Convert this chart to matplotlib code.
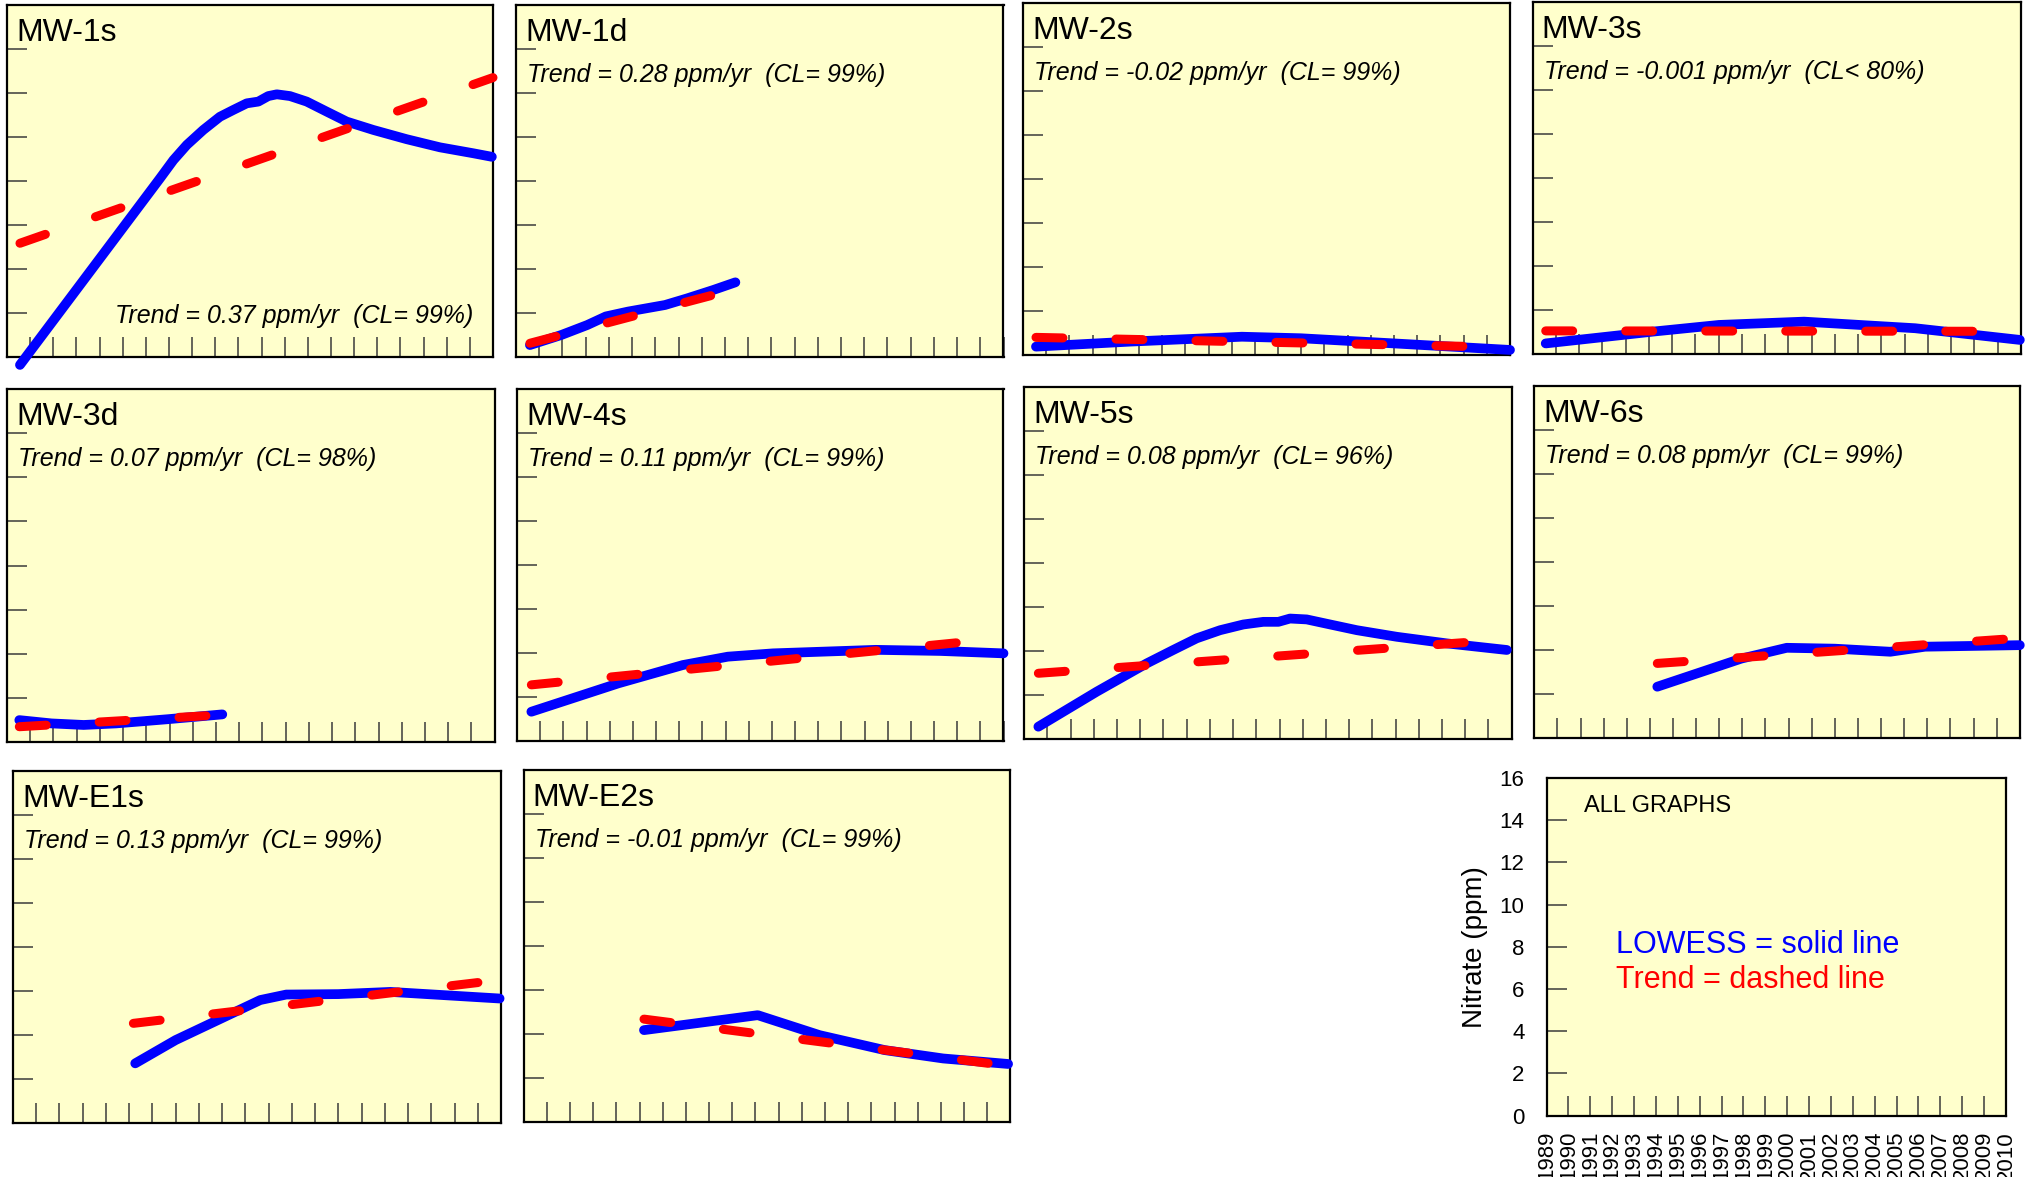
import matplotlib

matplotlib.use("Agg")
import matplotlib.pyplot as plt

plt.rcParams["font.family"] = ["Liberation Sans", "DejaVu Sans"]
plt.rcParams["lines.scale_dashes"] = False

# ---- data (year, nitrate ppm) ----
wells = ["MW-1s", "MW-1d", "MW-2s", "MW-3s",
         "MW-3d", "MW-4s", "MW-5s", "MW-6s",
         "MW-E1s", "MW-E2s"]

trend_labels = [
    "Trend = 0.37 ppm/yr  (CL= 99%)",
    "Trend = 0.28 ppm/yr  (CL= 99%)",
    "Trend = -0.02 ppm/yr  (CL= 99%)",
    "Trend = -0.001 ppm/yr  (CL< 80%)",
    "Trend = 0.07 ppm/yr  (CL= 98%)",
    "Trend = 0.11 ppm/yr  (CL= 99%)",
    "Trend = 0.08 ppm/yr  (CL= 96%)",
    "Trend = 0.08 ppm/yr  (CL= 99%)",
    "Trend = 0.13 ppm/yr  (CL= 99%)",
    "Trend = -0.01 ppm/yr  (CL= 99%)",
]

# LOWESS curves
mw1s_yr = [1989.56, 1995.61, 1996.19, 1996.77, 1997.48, 1998.2, 1998.78,
           1999.36, 1999.86, 2000.29, 2000.66, 2001.23, 2001.95, 2002.82, 2003.68,
           2004.83, 2006.27, 2007.71, 2009.15, 2009.95]
mw1s_no3 = [-0.36, 8.12, 8.95, 9.64, 10.32, 10.92, 11.23,
            11.53, 11.61, 11.86, 11.94, 11.86, 11.61, 11.15, 10.7,
            10.32, 9.9, 9.53, 9.26, 9.1]
mw1d_yr = [1989.6, 1990.96, 1992.07, 1992.87, 1993.82, 1995.42, 1996.37, 1997.49, 1998.45]
mw1d_no3 = [0.53, 0.99, 1.44, 1.83, 2.05, 2.35, 2.65, 3.03, 3.38]
mw2s_yr = [1989.56, 1993.65, 1998.44, 2000.98, 2004.93, 2010.0]
mw2s_no3 = [0.38, 0.61, 0.83, 0.76, 0.53, 0.23]
mw3s_yr = [1989.56, 1994.2, 1997.01, 2000.67, 2005.45, 2009.95]
mw3s_no3 = [0.48, 1.02, 1.32, 1.47, 1.17, 0.64]
mw3d_yr = [1989.53, 1990.92, 1992.3, 1993.69, 1995.91, 1998.27]
mw3d_no3 = [0.98, 0.83, 0.76, 0.83, 1.02, 1.24]
mw4s_yr = [1989.62, 1993.38, 1996.16, 1998.1, 2000.05, 2004.49, 2007.27, 2010.0]
mw4s_no3 = [1.33, 2.62, 3.45, 3.83, 3.98, 4.14, 4.09, 3.98]
mw5s_yr = [1989.61, 1992.12, 1994.28, 1995.42, 1996.43, 1997.44, 1998.44, 1999.3, 1999.95,
           2000.45, 2001.17, 2002.18, 2003.33, 2005.05, 2007.2, 2009.79]
mw5s_no3 = [0.56, 2.15, 3.44, 4.05, 4.58, 4.95, 5.21, 5.33, 5.33,
            5.48, 5.44, 5.21, 4.95, 4.65, 4.35, 4.05]
mw6s_yr = [1994.32, 1997.96, 1999.92, 2002.0, 2004.4, 2005.9, 2010.0]
mw6s_no3 = [2.32, 3.6, 4.09, 4.05, 3.91, 4.14, 4.21]
mwe1s_yr = [1994.26, 1996.0, 1997.96, 1999.64, 2000.76, 2003.0, 2005.24, 2009.94]
mwe1s_no3 = [2.7, 3.76, 4.74, 5.58, 5.83, 5.85, 5.95, 5.65]
mwe2s_yr = [1994.19, 1999.1, 2001.77, 2004.58, 2007.1, 2009.9]
mwe2s_no3 = [4.18, 4.86, 3.95, 3.27, 2.89, 2.64]

lowess_yr = [mw1s_yr, mw1d_yr, mw2s_yr, mw3s_yr, mw3d_yr,
             mw4s_yr, mw5s_yr, mw6s_yr, mwe1s_yr, mwe2s_yr]
lowess_no3 = [mw1s_no3, mw1d_no3, mw2s_no3, mw3s_no3, mw3d_no3,
              mw4s_no3, mw5s_no3, mw6s_no3, mwe1s_no3, mwe2s_no3]

# Trend lines (start / end)
trend_yr = [[1989.56, 2010.0], [1989.6, 1998.45], [1989.56, 2010.0], [1989.56, 2010.0],
            [1989.53, 1998.27], [1989.62, 2010.0], [1989.61, 2010.0], [1994.32, 2010.0],
            [1994.18, 2010.0], [1994.19, 2010.0]]
trend_no3 = [[5.17, 12.7], [0.61, 3.07], [0.80, 0.35], [1.05, 1.03],
             [0.68, 1.22], [2.55, 4.67], [2.99, 4.54], [3.38, 4.53],
             [4.52, 6.5], [4.68, 2.54]]

years = list(range(1989, 2011))
ppm_ticks = list(range(0, 17, 2))

# ---- layout (pixel boxes: left, right, top, bottom) ----
W, H = 2025, 1177
DPI = 100
panel_boxes = [
    (7, 493, 5, 357), (516, 1003.5, 4.7, 356.7), (1023, 1510, 2.7, 355), (1532.7, 2021, 1.7, 354),
    (7, 494.7, 389.3, 741.7), (517, 1003.5, 388.7, 741), (1024.2, 1511.7, 387.3, 739),
    (1534.3, 2019.8, 386, 737.7),
    (13, 501, 771, 1122.7), (523.7, 1010.4, 770.3, 1122),
]
legend_box = (1546.5, 2006, 778, 1115.5)

_BG = "#FFFFCC"
_BLUE = "#0000FF"
_RED = "#FF0000"
_TICK = "#3a3a3a"
PX = 72.0 / DPI  # points per pixel


def make_axes(fig, box):
    l, r, t, b = box
    ax = fig.add_axes([l / W, 1 - b / H, (r - l) / W, (b - t) / H])
    ax.set_facecolor(_BG)
    ax.set_xlim(1989, 2010)
    ax.set_ylim(0, 16)
    ax.set_xticks(years)
    ax.set_yticks(ppm_ticks)
    ax.tick_params(direction="in", length=20 * PX, width=1.1, color=_TICK,
                   top=False, right=False)
    for s in ax.spines.values():
        s.set_linewidth(1.6)
        s.set_color("black")
    return ax


fig = plt.figure(figsize=(W / DPI, H / DPI), dpi=DPI, facecolor="white")

for i, name in enumerate(wells):
    ax = make_axes(fig, panel_boxes[i])
    ax.tick_params(labelleft=False, labelbottom=False)

    ax.plot(lowess_yr[i], lowess_no3[i], color=_BLUE, lw=7,
            solid_capstyle="round", solid_joinstyle="round", clip_on=False, zorder=3)
    ax.plot(trend_yr[i], trend_no3[i], color=_RED, lw=6.5, dashes=(19.4, 38.2),
            dash_capstyle="round", clip_on=False, zorder=4)

    ax.annotate(name, xy=(0, 1), xycoords="axes fraction",
                xytext=(9 * PX, -36 * PX), textcoords="offset points",
                fontsize=23, va="baseline", ha="left")
    if i == 0:
        ax.annotate(trend_labels[i], xy=(0, 0), xycoords="axes fraction",
                    xytext=(108 * PX, 34 * PX), textcoords="offset points",
                    fontsize=18, style="italic", va="baseline", ha="left")
    else:
        ax.annotate(trend_labels[i], xy=(0, 1), xycoords="axes fraction",
                    xytext=(11 * PX, -77 * PX), textcoords="offset points",
                    fontsize=18, style="italic", va="baseline", ha="left")

# ---- "ALL GRAPHS" key panel ----
ax = make_axes(fig, legend_box)
ax.set_xticklabels([str(y) for y in years], rotation=90, fontsize=16)
ax.set_yticklabels([str(v) for v in ppm_ticks], fontsize=16)
ax.tick_params(axis="x", pad=15.5 * PX)
ax.tick_params(axis="y", pad=22 * PX)
ax.set_ylabel("Nitrate (ppm)", fontsize=20)
ax.yaxis.set_label_coords(-58 / (legend_box[1] - legend_box[0]), 0.5)

ax.annotate("ALL GRAPHS", xy=(0, 1), xycoords="axes fraction",
            xytext=(37 * PX, -34 * PX), textcoords="offset points",
            fontsize=17, va="baseline", ha="left")
ax.annotate("LOWESS = solid line", xy=(0, 1), xycoords="axes fraction",
            xytext=(70 * PX, -175 * PX), textcoords="offset points",
            fontsize=22, color=_BLUE, va="baseline", ha="left")
ax.annotate("Trend = dashed line", xy=(0, 1), xycoords="axes fraction",
            xytext=(70 * PX, -210 * PX), textcoords="offset points",
            fontsize=22, color=_RED, va="baseline", ha="left")

fig.savefig("out.png", dpi=DPI, facecolor="white")
plt.close(fig)
